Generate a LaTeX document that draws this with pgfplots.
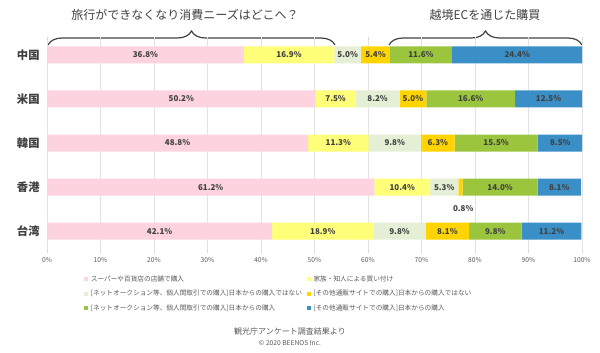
\documentclass[border=0pt]{standalone}
\usepackage{pgfplots}
\pgfplotsset{compat=1.18}
\usepackage{fontspec}
\setmainfont{Noto Sans CJK JP}
\usetikzlibrary{decorations.pathreplacing}
\definecolor{cpink}{HTML}{FCD3DE}
\definecolor{cyel}{HTML}{FFFF7A}
\definecolor{clgr}{HTML}{E4EFD6}
\definecolor{cgold}{HTML}{FFD400}
\definecolor{cgrn}{HTML}{9BC53D}
\definecolor{cblue}{HTML}{3B8FC7}
\definecolor{ctxt}{HTML}{404040}
\definecolor{cgray}{HTML}{595959}
\tikzset{lbl/.style={font=\fontsize{6}{7}\selectfont\bfseries, text=ctxt}}
\begin{document}
\begin{tikzpicture}
\begin{scope}[x=0.75pt,y=-0.75pt]
\path (0,0) rectangle (600,353);
\node[font=\fontsize{9}{10}\selectfont, text=ctxt] at (185,15) {旅行ができなくなり消費ニーズはどこへ？};
\node[font=\fontsize{9}{10}\selectfont, text=ctxt] at (485,15) {越境ECを通じた購買};
\draw[ctxt, line width=0.9pt, decorate, decoration={brace, amplitude=10.5pt}] (48,45) -- (335,45);
\draw[ctxt, line width=0.9pt, decorate, decoration={brace, amplitude=10.5pt}] (389,45) -- (582,45);
\node[font=\fontsize{6}{7}\selectfont, text=cgray] at (290,331) {観光庁アンケート調査結果より};
\node[font=\fontsize{5}{6}\selectfont, text=cgray] at (290,343) {© 2020 BEENOS Inc.};
\end{scope}
\begin{axis}[
  at={(35.25pt,-187.5pt)}, anchor=south west,
  scale only axis, width=401.25pt, height=157.5pt,
  xbar stacked, bar width=12.75pt,
  xmin=0, xmax=100, ymin=-0.34, ymax=4.43, y dir=reverse,
  axis line style={draw=none},
  xmajorgrids, grid style={gray!22, line width=0.6pt},
  xtick={0,10,...,100},
  xticklabels={0\%,10\%,20\%,30\%,40\%,50\%,60\%,70\%,80\%,90\%,100\%},
  xticklabel style={font=\fontsize{5}{6}\selectfont, text=cgray},
  xtick style={gray!30, line width=0.6pt}, tick align=outside, major tick length=2pt,
  ytick={0,1,2,3,4},
  yticklabels={中国,米国,韓国,香港,台湾},
  yticklabel style={font=\fontsize{8.5}{9}\selectfont\bfseries, text=ctxt},
  ytick style={draw=none},
  legend columns=2,
  legend cell align=left,
  legend style={at={(axis description cs:0.069,-0.122)}, anchor=north west,
    draw=none, fill=none, inner sep=0pt, column sep=2pt, row sep=5.9pt,
    nodes={inner sep=0pt, text height=4pt, text depth=1pt, text width=160pt,
      font=\fontsize{5}{6}\selectfont, text=cgray}},
  legend image code/.code={\fill[#1] (0pt,-1.6pt) rectangle (3pt,1.6pt);},
]
\addplot[fill=cpink, draw=none] coordinates {(36.8,0) (50.2,1) (48.8,2) (61.2,3) (42.1,4)};
\addlegendentry{スーパーや百貨店の店舗で購入}
\addplot[fill=cyel, draw=none] coordinates {(16.9,0) (7.5,1) (11.3,2) (10.4,3) (18.9,4)};
\addlegendentry{家族・知人による買い付け}
\addplot[fill=clgr, draw=none] coordinates {(5.0,0) (8.2,1) (9.8,2) (5.3,3) (9.8,4)};
\addlegendentry{{[}ネットオークション等、個人間取引での購入{]}日本からの購入ではない}
\addplot[fill=cgold, draw=none] coordinates {(5.4,0) (5.0,1) (6.3,2) (0.8,3) (8.1,4)};
\addlegendentry{{[}その他通販サイトでの購入{]}日本からの購入ではない}
\addplot[fill=cgrn, draw=none] coordinates {(11.6,0) (16.6,1) (15.5,2) (14.0,3) (9.8,4)};
\addlegendentry{{[}ネットオークション等、個人間取引での購入{]}日本からの購入}
\addplot[fill=cblue, draw=none] coordinates {(24.4,0) (12.5,1) (8.5,2) (8.1,3) (11.2,4)};
\addlegendentry{{[}その他通販サイトでの購入{]}日本からの購入}
\coordinate (a1) at (axis cs:18.4,0);
\coordinate (a2) at (axis cs:45.25,0);
\coordinate (a3) at (axis cs:56.2,0);
\coordinate (a4) at (axis cs:61.4,0);
\coordinate (a5) at (axis cs:69.9,0);
\coordinate (a6) at (axis cs:87.9,0);
\coordinate (b1) at (axis cs:25.1,1);
\coordinate (b2) at (axis cs:53.95,1);
\coordinate (b3) at (axis cs:61.8,1);
\coordinate (b4) at (axis cs:68.4,1);
\coordinate (b5) at (axis cs:79.2,1);
\coordinate (b6) at (axis cs:93.75,1);
\coordinate (c1) at (axis cs:24.4,2);
\coordinate (c2) at (axis cs:54.45,2);
\coordinate (c3) at (axis cs:65.0,2);
\coordinate (c4) at (axis cs:73.05,2);
\coordinate (c5) at (axis cs:83.95,2);
\coordinate (c6) at (axis cs:95.95,2);
\coordinate (d1) at (axis cs:30.6,3);
\coordinate (d2) at (axis cs:66.4,3);
\coordinate (d3) at (axis cs:74.25,3);
\coordinate (d4) at (axis cs:77.8,3.48);
\coordinate (d5) at (axis cs:84.7,3);
\coordinate (d6) at (axis cs:95.75,3);
\coordinate (e1) at (axis cs:21.05,4);
\coordinate (e2) at (axis cs:51.55,4);
\coordinate (e3) at (axis cs:65.9,4);
\coordinate (e4) at (axis cs:74.85,4);
\coordinate (e5) at (axis cs:83.8,4);
\coordinate (e6) at (axis cs:94.3,4);
\end{axis}
\node[lbl] at (a1) {36.8\%};
\node[lbl] at (a2) {16.9\%};
\node[lbl] at (a3) {5.0\%};
\node[lbl] at (a4) {5.4\%};
\node[lbl] at (a5) {11.6\%};
\node[lbl] at (a6) {24.4\%};
\node[lbl] at (b1) {50.2\%};
\node[lbl] at (b2) {7.5\%};
\node[lbl] at (b3) {8.2\%};
\node[lbl] at (b4) {5.0\%};
\node[lbl] at (b5) {16.6\%};
\node[lbl] at (b6) {12.5\%};
\node[lbl] at (c1) {48.8\%};
\node[lbl] at (c2) {11.3\%};
\node[lbl] at (c3) {9.8\%};
\node[lbl] at (c4) {6.3\%};
\node[lbl] at (c5) {15.5\%};
\node[lbl] at (c6) {8.5\%};
\node[lbl] at (d1) {61.2\%};
\node[lbl] at (d2) {10.4\%};
\node[lbl] at (d3) {5.3\%};
\node[lbl] at (d4) {0.8\%};
\node[lbl] at (d5) {14.0\%};
\node[lbl] at (d6) {8.1\%};
\node[lbl] at (e1) {42.1\%};
\node[lbl] at (e2) {18.9\%};
\node[lbl] at (e3) {9.8\%};
\node[lbl] at (e4) {8.1\%};
\node[lbl] at (e5) {9.8\%};
\node[lbl] at (e6) {11.2\%};
\end{tikzpicture}
\end{document}
